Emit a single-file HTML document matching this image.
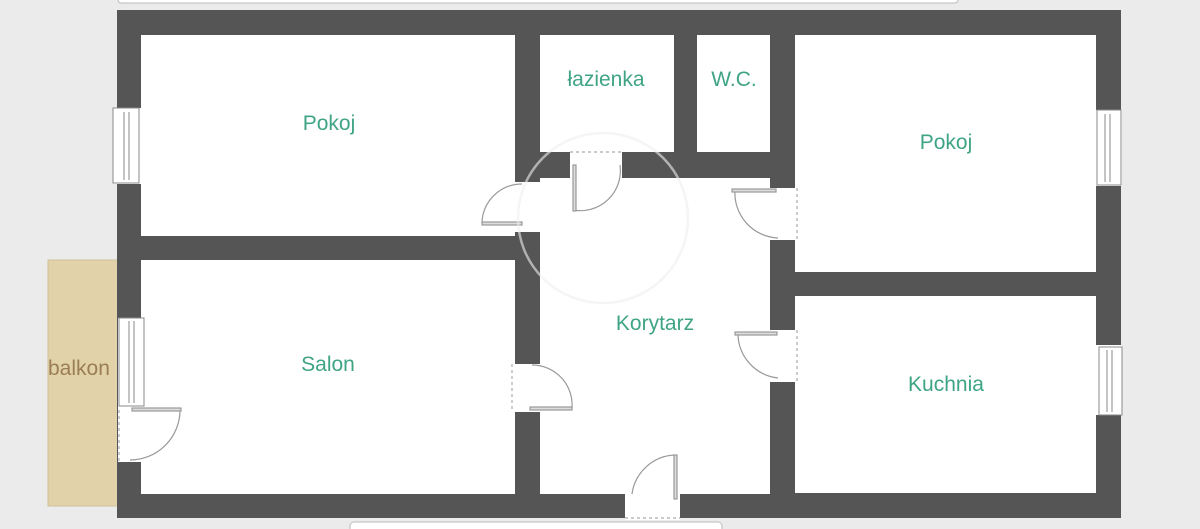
<!DOCTYPE html>
<html><head><meta charset="utf-8"><style>
html,body{margin:0;padding:0;background:#ebebeb;width:1200px;height:529px;overflow:hidden}
svg{display:block}
text{font-family:"Liberation Sans",sans-serif;font-size:21px;fill:#3fa485}
</style></head><body>
<svg width="1200" height="529" viewBox="0 0 1200 529">
<rect x="0" y="0" width="1200" height="529" fill="#ebebeb"/>
<rect x="118" y="-6" width="840" height="9" rx="3" fill="#fff" stroke="#bbb"/>
<rect x="350" y="522" width="372" height="12" rx="4" fill="#fff" stroke="#bbb"/>
<rect x="48" y="260" width="70" height="246" fill="#e2d2a9" stroke="#cfc09a"/>
<text x="48" y="375" style="fill:#9a7d55;font-size:21px">balkon</text>
<rect x="117" y="10" width="1004" height="508" fill="#555"/>
<g fill="#fff">
<rect x="141" y="35" width="374" height="201"/>
<rect x="141" y="260" width="374" height="234"/>
<rect x="540" y="35" width="134" height="117"/>
<rect x="697" y="35" width="73" height="117"/>
<rect x="540" y="178" width="230" height="316"/>
<rect x="795" y="35" width="301" height="237"/>
<rect x="795" y="296" width="301" height="197"/>
<rect x="515" y="182" width="25" height="50"/>
<rect x="512" y="364" width="28" height="48"/>
<rect x="570" y="152" width="52" height="26"/>
<rect x="770" y="188" width="28" height="52"/>
<rect x="770" y="330" width="28" height="52"/>
<rect x="625" y="494" width="55" height="26"/>
<rect x="118" y="318" width="23" height="144"/>
<rect x="113" y="108" width="28" height="76"/>
<rect x="1096" y="110" width="26" height="76"/>
<rect x="1096" y="345" width="26" height="70"/>
</g>
<g fill="none" stroke="#888" stroke-width="1">
<rect x="113" y="108" width="26" height="75"/>
<line x1="124" y1="112" x2="124" y2="180"/><line x1="129" y1="112" x2="129" y2="180"/>
<rect x="1097" y="110" width="24" height="75"/>
<line x1="1105" y1="114" x2="1105" y2="182"/><line x1="1110" y1="114" x2="1110" y2="182"/>
<rect x="1099" y="347" width="23" height="68"/>
<line x1="1107" y1="350" x2="1107" y2="412"/><line x1="1112" y1="350" x2="1112" y2="412"/>
<rect x="119" y="318" width="25" height="88"/>
<line x1="129" y1="321" x2="129" y2="403"/><line x1="134" y1="321" x2="134" y2="403"/>
</g>
<g fill="none" stroke="#999" stroke-width="1.2">
<path d="M482 223 A40 40 0 0 1 522 184"/><rect x="482" y="222" width="40" height="3" fill="#ddd"/>
<path d="M573 210 A40 40 0 0 0 620 165"/><rect x="573" y="165" width="3" height="46" fill="#ddd"/>
<path d="M735 190 A45 45 0 0 0 778 238"/><rect x="732" y="189" width="44" height="3" fill="#ddd"/>
<path d="M738 333 A45 45 0 0 0 778 378"/><rect x="735" y="332" width="42" height="3" fill="#ddd"/>
<path d="M572 408 A40 40 0 0 0 532 365"/><rect x="530" y="407" width="42" height="3" fill="#ddd"/>
<path d="M632 494 A45 45 0 0 1 675 455"/><rect x="674" y="455" width="3" height="44" fill="#ddd"/>
<path d="M180 410 A50 50 0 0 1 130 460"/><rect x="132" y="408" width="49" height="3" fill="#ddd"/>
<g stroke-dasharray="3 3" stroke="#aaa"><line x1="570" y1="152" x2="622" y2="152"/><line x1="797" y1="188" x2="797" y2="240"/><line x1="797" y1="330" x2="797" y2="382"/><line x1="512" y1="364" x2="512" y2="412"/><line x1="625" y1="518" x2="680" y2="518"/><line x1="119" y1="410" x2="119" y2="462"/></g>
</g>
<circle cx="603" cy="218" r="85" fill="none" stroke="#eee" stroke-width="2.5" opacity="0.6"/>
<text x="329" y="130" text-anchor="middle">Pokoj</text>
<text x="606" y="86" text-anchor="middle">łazienka</text>
<text x="734" y="86" text-anchor="middle">W.C.</text>
<text x="946" y="149" text-anchor="middle">Pokoj</text>
<text x="328" y="371" text-anchor="middle">Salon</text>
<text x="655" y="330" text-anchor="middle">Korytarz</text>
<text x="946" y="391" text-anchor="middle">Kuchnia</text>
</svg>
</body></html>
